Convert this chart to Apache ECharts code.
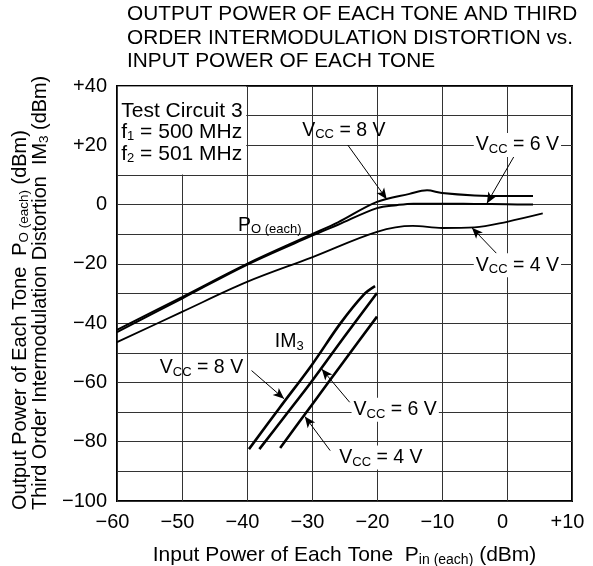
<!DOCTYPE html>
<html><head><meta charset="utf-8">
<script src="https://cdn.jsdelivr.net/npm/echarts@6/dist/echarts.min.js"></script>
<style>html,body{margin:0;padding:0;background:#fff}#c{width:593px;height:566px}</style>
</head><body><div id="c"></div>
<script>
const FONT = "'Liberation Sans', Arial, Helvetica, sans-serif";

// ---- data ----
const xTicks = [-60, -50, -40, -30, -20, -10, 0, 10];
const yTicks = [-100, -80, -60, -40, -20, 0, 20, 40];

const po8_x = [-60, -50, -40, -30, -26, -20, -15, -12.3, -10, -5, 0, 4];
const po8_y = [-42.3, -31.2, -20, -10, -6, 0.9, 3.6, 4.8, 3.9, 3.1, 2.9, 2.9];
const po6_x = [-60, -50, -40, -30, -26, -20, -17, -14.4, -10, -5, 0, 4];
const po6_y = [-43, -31.7, -20.3, -10.5, -6.8, -1.2, -0.2, 0.3, 0.3, 0.2, 0.1, 0];
const po4_x = [-60, -50, -40, -30, -20, -14.5, -10, -5, 0, 5.5];
const po4_y = [-46.4, -36.2, -26.1, -17.8, -9.2, -7.2, -7.9, -7.7, -5.8, -3.0];

const im8_x = [-39.7, -35, -30, -25.6, -22, -20.3];
const im8_y = [-82.5, -68.6, -54, -40, -30.3, -27.5];
const im6_x = [-38.1, -34, -30, -25, -20];
const im6_y = [-82.5, -70.9, -59.5, -44.5, -29.8];
const im4_x = [-34.9, -30, -25, -20];
const im4_y = [-82.1, -67.5, -52.6, -37.8];

// annotation arrows (from label to curve), in data units
const arrowFrom = [[-24.5, 20.1], [1.2, 16.7], [-1.6, -16.5], [-39.3, -56], [-24.2, -66.7], [-27.2, -83]];
const arrowTo   = [[-18.5, 1.8], [-3.1, 0.4], [-5.4, -7.8], [-34.3, -65.5], [-28.5, -55.5], [-31.1, -71.5]];

// annotation texts: [main, subscript, rest]
const noteParts = [
  ['V', 'CC', ' = 8 V'],
  ['V', 'CC', ' = 6 V'],
  ['V', 'CC', ' = 4 V'],
  ['P', 'O (each)', ''],
  ['IM', '3', ''],
  ['V', 'CC', ' = 8 V'],
  ['V', 'CC', ' = 6 V'],
  ['V', 'CC', ' = 4 V']
];
const notePos = [[-25.1, 25.1], [1.6, 20.1], [1.6, -20.5], [-36.5, -7], [-33.5, -46.4], [-47, -55], [-17.2, -69.2], [-19.4, -85.3]];
const noteWhite = [false, true, true, false, false, false, true, true];

const boxLines = [['Test Circuit 3', '', ''], ['f', '1', ' = 500 MHz'], ['f', '2', ' = 501 MHz']];
const boxArea = [[-59.85, 39.85], [-40.12, 10.15]];
const boxTextPos = [-59.35, 35.2];

const titleLines = ['OUTPUT POWER OF EACH TONE AND THIRD', 'ORDER INTERMODULATION DISTORTION vs.', 'INPUT POWER OF EACH TONE'];
const xName = ['Input Power of Each Tone  P', 'in (each)', ' (dBm)'];
const yName1 = ['Output Power of Each Tone  P', 'O (each)', ' (dBm)'];
const yName2 = ['Third Order Intermodulation Distortion  IM', '3', ' (dBm)'];

// ---- helpers ----
const zip = (xs, ys) => xs.map((x, i) => [x, ys[i]]);
const rt = p => '{v|' + p[0] + '}' + (p[1] ? '{s|' + p[1] + '}' : '') + (p[2] ? '{v|' + p[2] + '}' : '');
const mkRich = (big, small, lh, slh) => ({
  v: { fontSize: big, fontFamily: FONT, color: '#000', textBorderWidth: 0, lineHeight: lh },
  s: { fontSize: small, fontFamily: FONT, color: '#000', textBorderWidth: 0, lineHeight: slh, verticalAlign: 'bottom' }
});
const fmt = v => v > 0 ? '+' + v : (v < 0 ? '\u2212' + (-v) : '0');

const lineSeries = (name, xs, ys, w) => ({
  name, type: 'line', data: zip(xs, ys), showSymbol: false, smooth: 0.35, silent: true,
  lineStyle: { color: '#000', width: w }, z: 5
});

const chart = echarts.init(document.getElementById('c'), null, { renderer: 'canvas' });
chart.setOption({
  animation: false,
  backgroundColor: '#fff',
  title: {
    text: titleLines.join('\n'), left: 127, top: 3, padding: 0,
    textStyle: { fontSize: 20.8, fontWeight: 'normal', fontFamily: FONT, color: '#000', lineHeight: 23.5 }
  },
  grid: { left: 117, right: 21, top: 86, bottom: 65, outerBoundsMode: 'none', containLabel: false, show: true, borderColor: '#000', borderWidth: 2, backgroundColor: 'transparent' },
  xAxis: {
    type: 'value', min: xTicks[0], max: xTicks[xTicks.length - 1], interval: 10,
    axisLine: { show: false }, axisTick: { show: false },
    splitLine: { show: true, lineStyle: { color: '#333', width: 1 } },
    axisLabel: { formatter: v => xTicks.includes(v) ? fmt(v) : '', fontSize: 20, fontFamily: FONT, color: '#000', margin: 11, padding: [0, 9, 0, 0] },
    name: rt(xName), nameLocation: 'middle', nameGap: 42,
    nameTextStyle: { rich: mkRich(21, 14, 24, 16.5) }
  },
  yAxis: {
    type: 'value', min: yTicks[0], max: yTicks[yTicks.length - 1], interval: 10,
    axisLine: { show: false }, axisTick: { show: false },
    splitLine: { show: true, lineStyle: { color: '#333', width: 1 } },
    axisLabel: { formatter: v => yTicks.includes(v) ? fmt(v) : '', fontSize: 20, fontFamily: FONT, color: '#000', margin: 10 }
  },
  graphic: [
    { type: 'text', x: 20.7, y: 510, rotation: Math.PI / 2, style: { text: rt(yName1), rich: mkRich(19.9, 13.5, 22, 15.5), align: 'left', verticalAlign: 'middle' } },
    { type: 'text', x: 40.5, y: 510, rotation: Math.PI / 2, style: { text: rt(yName2), rich: mkRich(19.9, 13.5, 22, 15.5), align: 'left', verticalAlign: 'middle' } }
  ],
  series: [
    lineSeries('Po 8V', po8_x, po8_y, 2),
    lineSeries('Po 6V', po6_x, po6_y, 2),
    lineSeries('Po 4V', po4_x, po4_y, 1.8),
    lineSeries('IM3 8V', im8_x, im8_y, 2.6),
    lineSeries('IM3 6V', im6_x, im6_y, 2.6),
    lineSeries('IM3 4V', im4_x, im4_y, 2.6),
    {
      name: 'notes', type: 'scatter', symbolSize: 0, silent: true, z: 6,
      itemStyle: { color: '#000', opacity: 1 },
      data: notePos.map((p, i) => ({
        value: p,
        label: {
          show: true, position: 'inside', formatter: rt(noteParts[i]), rich: mkRich(19.5, 13, 22, 15),
          color: '#000', opacity: 1, textBorderWidth: 0,
          backgroundColor: noteWhite[i] ? '#fff' : 'transparent', padding: [1, 2, 1, 2]
        }
      })).concat([{
        value: boxTextPos,
        label: {
          show: true, position: [0, 0], align: 'left', verticalAlign: 'top', color: '#000', opacity: 1, textBorderWidth: 0,
          formatter: boxLines.map(rt).join('\n'), rich: mkRich(21, 13, 21.5, 13)
        }
      }]),
      markArea: {
        silent: true, itemStyle: { color: '#fff', opacity: 1 },
        data: [[{ coord: boxArea[0] }, { coord: boxArea[1] }]]
      },
      markLine: {
        silent: true, symbol: ['none', 'arrow'], symbolSize: [7, 11], precision: 3,
        lineStyle: { color: '#000', width: 1, type: 'solid', opacity: 1 }, label: { show: false },
        data: arrowFrom.map((f, i) => [{ coord: f }, { coord: arrowTo[i] }])
      }
    }
  ]
});
</script>
</body></html>
